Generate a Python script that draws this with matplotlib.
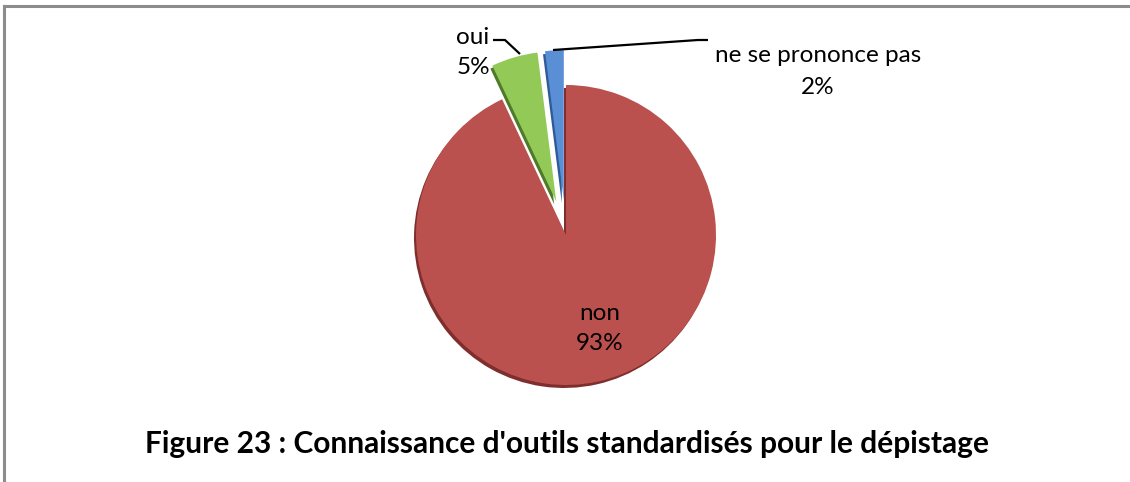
import matplotlib
matplotlib.use("Agg")
import matplotlib.pyplot as plt
from matplotlib.lines import Line2D

categories = ["non", "oui", "ne se prononce pas"]
values = [93, 5, 2]
pct_labels = ["93%", "5%", "2%"]
title = "Figure 23 : Connaissance d'outils standardisés pour le dépistage"

colors = ["#BA514E", "#92C957", "#5A8FD6"]
shadow_colors = ["#7E2E2C", "#4F7A2A", "#2F5C99"]

W, H = 1130, 482
fig = plt.figure(figsize=(W / 100, H / 100), dpi=100)
fig.patch.set_facecolor("white")
ax = fig.add_axes([0, 0, 1, 1])
ax.set_xlim(0, W)
ax.set_ylim(0, H)
ax.set_aspect("equal")
ax.axis("off")

cx, cy, r = 566, H - 235, 150
explode = [0, 35, 35]

# shadow / bevel layer
ax.pie(values, colors=shadow_colors, startangle=90, counterclock=False,
       center=(cx - 2, cy - 3), radius=r, explode=explode, frame=True,
       wedgeprops=dict(linewidth=0))
wedges, _ = ax.pie(values, colors=colors, startangle=90, counterclock=False,
                   center=(cx, cy), radius=r, explode=explode, frame=True,
                   wedgeprops=dict(linewidth=0))
ax.set_xlim(0, W)
ax.set_ylim(0, H)
ax.axis("off")

font = "Lato"
fs = 17.5
# non label
ax.text(600, H - 314, categories[0], ha="center", va="center", fontsize=fs, family=font, color="black")
ax.text(600, H - 343, pct_labels[0], ha="center", va="center", fontsize=fs, family=font, color="black")
# oui label
ax.text(473, H - 38, categories[1], ha="center", va="center", fontsize=fs, family=font, color="black")
ax.text(473, H - 68, pct_labels[1], ha="center", va="center", fontsize=fs, family=font, color="black")
ax.plot([493, 505, 520], [H - 40, H - 40, H - 54], color="black", lw=1.6, solid_capstyle="butt")
# nsp label
ax.text(818, H - 56, categories[2], ha="center", va="center", fontsize=fs, family=font, color="black")
ax.text(818, H - 87, pct_labels[2], ha="center", va="center", fontsize=fs, family=font, color="black")
ax.plot([553, 698, 708], [H - 50, H - 40, H - 40], color="black", lw=1.6, solid_capstyle="butt")

# title
ax.text(567, H - 444, title, ha="center", va="center", fontsize=21.5, family=font,
        fontweight="bold", color="black")

# frame (top and left visible)
ax.add_line(Line2D([3.5, W], [H - 5.5, H - 5.5], color="#8C8C8C", lw=2.2))
ax.add_line(Line2D([3.5, 3.5], [0, H - 5.5], color="#8C8C8C", lw=2.2))

fig.savefig("out.png", dpi=100)
